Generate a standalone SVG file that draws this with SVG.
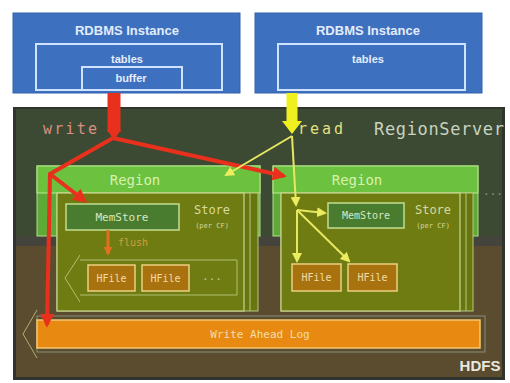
<svg xmlns="http://www.w3.org/2000/svg" width="510" height="383" viewBox="0 0 510 383">
<style>
.blue{fill:#3e70c0;stroke:#3563ad;stroke-width:1}
.inner{fill:none;stroke:#cfe2ff;stroke-width:2}
.bt{font-family:"Liberation Sans",Arial,sans-serif;font-weight:bold;fill:#e2ecfa;text-anchor:middle}
.mono{font-family:"DejaVu Sans Mono","Liberation Mono",monospace}
.hdr{fill:#6cc23e;stroke:#b8ea90;stroke-width:1}
.reg{fill:#5eaa38;stroke:#b0e088;stroke-width:1}
.store{fill:#6e7c12;stroke:#c8d890;stroke-width:1.2}
.storeb{fill:#68760f;stroke:#b8c880;stroke-width:1}
.mem{fill:#4a7c30;stroke:#c4dc90;stroke-width:1.5}
.hf{fill:#a8720e;stroke:#ecd080;stroke-width:1.5}
.ht{fill:#f2dcaa;font-size:10px;text-anchor:middle}
.rt{fill:#d8f0b0;font-size:14px;text-anchor:middle}
.st{fill:#d8d8a0;text-anchor:middle}
.red{stroke:#e8301c;stroke-width:4;fill:none}
.yel{stroke:#e8e860;stroke-width:2;fill:none}
</style>
<defs>
<marker id="ar" viewBox="0 0 10 10" refX="8" refY="5" markerWidth="3.5" markerHeight="3.5" orient="auto"><path d="M0,0 L10,5 L0,10 z" fill="#e8301c"/></marker>
<marker id="ay" viewBox="0 0 10 10" refX="8" refY="5" markerWidth="5" markerHeight="5" orient="auto"><path d="M0,0 L10,5 L0,10 z" fill="#ecec60"/></marker>
<marker id="ao" viewBox="0 0 10 10" refX="8" refY="5" markerWidth="3" markerHeight="3" orient="auto"><path d="M0,0 L10,5 L0,10 z" fill="#e07020"/></marker>
</defs>
<rect width="510" height="383" fill="#ffffff"/>

<g id="rdbms1">
<rect class="blue" x="13" y="13" width="227" height="80"/>
<text class="bt" x="127" y="35" font-size="13">RDBMS Instance</text>
<rect class="inner" x="36" y="44" width="186" height="46"/>
<text class="bt" x="127" y="63" font-size="11">tables</text>
<rect class="inner" x="82" y="67" width="100" height="23"/>
<text class="bt" x="131" y="82" font-size="11">buffer</text>
</g>

<g id="rdbms2">
<rect class="blue" x="255" y="13" width="227" height="80"/>
<text class="bt" x="368" y="35" font-size="13">RDBMS Instance</text>
<rect class="inner" x="278" y="44" width="187" height="46"/>
<text class="bt" x="368" y="63" font-size="11">tables</text>
</g>

<g id="regionserver">
<rect x="13" y="107" width="492" height="273" fill="#2f352c"/>
<rect x="16" y="109" width="486" height="127" fill="#3c4a33"/>
<rect x="16" y="236" width="486" height="10" fill="#44443c"/>
<rect x="16" y="246" width="486" height="131" fill="#5b4c30"/>
<text class="mono" x="43" y="134" font-size="15" fill="#d89080" textLength="54">write</text>
<text class="mono" x="298" y="134" font-size="15" fill="#e0e080" textLength="45">read</text>
<text class="mono" x="374" y="135" font-size="17" fill="#c8d2c0" textLength="130">RegionServer</text>
<text class="mono" x="493" y="195" font-size="11" fill="#8a9a80" text-anchor="middle">...</text>
</g>

<g id="region1">
<rect class="reg" x="37" y="166" width="223" height="70"/>
<rect class="hdr" x="37" y="166" width="223" height="27"/>
<text class="mono rt" x="135" y="185">Region</text>
<rect class="storeb" x="57" y="193" width="201" height="118"/>
<line x1="250" y1="193" x2="250" y2="311" stroke="#b8c880" stroke-width="1"/>
<rect class="store" x="57" y="193" width="187" height="118"/>
<text class="mono st" x="212" y="214" font-size="12">Store</text>
<text class="mono st" x="212" y="228" font-size="7">(per CF)</text>
</g>

<g id="memstore1">
<rect class="mem" x="66" y="204" width="113" height="26"/>
<text class="mono" x="122" y="221" font-size="11" fill="#d8e8c0" text-anchor="middle">MemStore</text>
</g>

<g id="hfiles1">
<path d="M80,255 L65,278 L80,302 M80,260 L237,260 L237,295 L80,295" fill="none" stroke="#b0c070" stroke-width="1"/>
<rect class="hf" x="88" y="265" width="47" height="26"/>
<text class="mono ht" x="111.5" y="282">HFile</text>
<rect class="hf" x="142" y="265" width="47" height="26"/>
<text class="mono ht" x="165.5" y="282">HFile</text>
<text class="mono" x="212" y="280" font-size="11" fill="#c8c890" text-anchor="middle">...</text>
</g>

<g id="region2">
<rect class="reg" x="273" y="166" width="205" height="70"/>
<rect class="hdr" x="273" y="166" width="205" height="27"/>
<text class="mono rt" x="357" y="185">Region</text>
<rect class="storeb" x="281" y="193" width="192" height="118"/>
<line x1="466" y1="193" x2="466" y2="311" stroke="#b8c880" stroke-width="1"/>
<rect class="store" x="281" y="193" width="179" height="118"/>
<text class="mono st" x="433" y="214" font-size="12">Store</text>
<text class="mono st" x="433" y="228" font-size="7">(per CF)</text>
</g>

<g id="memstore2">
<rect class="mem" x="328" y="203" width="76" height="25"/>
<text class="mono" x="366" y="219" font-size="10" fill="#d8e8c0" text-anchor="middle">MemStore</text>
</g>

<g id="hfiles2">
<rect class="hf" x="292" y="264" width="49" height="27"/>
<text class="mono ht" x="316.5" y="281">HFile</text>
<rect class="hf" x="348" y="264" width="49" height="27"/>
<text class="mono ht" x="372.5" y="281">HFile</text>
</g>

<g id="wal">
<path d="M37,310 L23,334 L37,358" fill="none" stroke="#b0b070" stroke-width="1"/>
<rect x="37" y="316" width="448" height="36" fill="none" stroke="#8c8c7a" stroke-width="1"/>
<rect x="37" y="320" width="443" height="28" fill="#e88a12" stroke="#f2c870" stroke-width="1.5"/>
<text class="mono" x="260" y="338" font-size="11" fill="#f4dcaa" text-anchor="middle">Write Ahead Log</text>
</g>

<g id="hdfs">
<text x="480" y="371" font-family="'Liberation Sans',Arial,sans-serif" font-weight="bold" font-size="15" fill="#e8e8e0" text-anchor="middle">HDFS</text>
</g>

<g id="connectors">
<path d="M114,93 L114,132" stroke="#e8301c" stroke-width="13" fill="none"/>
<path d="M107,130 L114,140 L121,130 z" fill="#e8301c"/>
<path class="red" d="M113,138 L50,174 L47,325" marker-end="url(#ar)"/>
<path class="red" d="M50,174 L85,201" marker-end="url(#ar)"/>
<path class="red" d="M113,138 L284,176" marker-end="url(#ar)"/>
<path d="M108,230 L108,254" stroke="#e07020" stroke-width="3" fill="none" marker-end="url(#ao)"/>
<text class="mono" x="118" y="246" font-size="10" fill="#d0a040">flush</text>
<path d="M292,93 L292,122" stroke="#f0f020" stroke-width="11" fill="none"/>
<path d="M282,121 L292,134 L302,121 z" fill="#f0f020"/>
<path class="yel" d="M292,136 L226,175" marker-end="url(#ay)"/>
<path class="yel" d="M292,136 L296,205" marker-end="url(#ay)"/>
<path class="yel" d="M297,210 L325,213" marker-end="url(#ay)"/>
<path class="yel" d="M297,210 L297,261" marker-end="url(#ay)"/>
<path class="yel" d="M297,210 L349,261" marker-end="url(#ay)"/>
</g>
</svg>
